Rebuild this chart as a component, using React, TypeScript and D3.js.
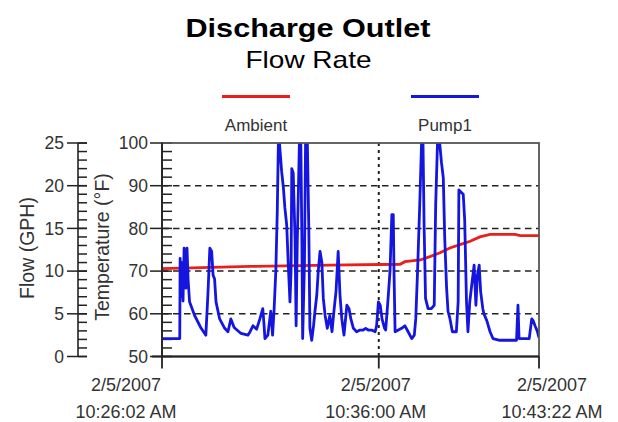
import React from "react";
import * as d3 from "d3";

// seconds after 2/5/2007 10:26:02 AM
const pumpSeconds = [
  0, 49, 50, 52, 55, 58, 61, 66, 69, 72, 76, 90, 108, 121, 127, 132, 137, 141, 145, 149,
  159, 173, 182, 190, 199, 218, 237, 243, 251, 261, 270, 278, 281, 284, 292, 300, 305, 309,
  314, 318, 321, 324, 330, 335, 339, 344, 348, 353, 356, 358, 362, 367, 370, 373, 379, 383,
  386, 388, 393, 396, 401, 405, 408, 413, 418, 422, 427, 431, 436, 441, 445, 450, 456, 463,
  469, 475, 480, 486, 491, 496, 502, 510, 516, 521, 528, 537, 546, 555, 562, 569, 578, 588,
  592, 597, 602, 607, 614, 617, 623, 629, 634, 638, 640, 643, 652, 661, 670, 679, 689, 696,
  700, 705, 711, 716, 720, 723, 727, 734, 743, 751, 755, 760, 766, 771, 776, 780, 785, 789,
  794, 801, 812, 817, 819, 821, 831, 835, 840, 844, 849, 854, 861, 866, 870, 875, 879, 885,
  888, 896, 905, 913, 932, 960, 978, 982, 985, 1002, 1013, 1020, 1024, 1029, 1035, 1040,
];
const pumpFlow = [
  2.1, 2.1, 11.5, 7, 11, 6.5, 12.7, 8, 12.7, 9, 6.4, 4.8, 3.3, 2.5, 7.6, 12.7, 12.3, 9.5, 9.1, 6.4,
  4.4, 3.3, 2.9, 4.4, 3.4, 2.7, 2.5, 2.9, 3.6, 3.2, 4.4, 5.6, 4, 2.1, 2.5, 5.3, 2.5, 5.3,
  10, 17, 25, 25, 21.7, 19.7, 17.4, 15.4, 11.1, 6.4, 10, 22, 21.5, 13.8, 3.6, 13, 25, 25,
  13, 2.1, 11, 25, 25, 15, 3.3, 1.9, 3.6, 5.3, 7.2, 10, 12.3, 11, 6.8, 4.8, 3.3, 4.8,
  2.9, 5.6, 7.6, 12.3, 7.2, 4.4, 2.5, 6, 5.6, 4.4, 3.3, 2.9, 3.1, 3.1, 3.3, 3.1, 3.1, 2.9,
  3.6, 6.4, 6, 4.4, 3.3, 3.1, 6.4, 10, 16.6, 16.6, 10, 2.9, 3.1, 3.3, 3.6, 2.9, 2.1, 2.5,
  4.4, 10, 17.8, 25, 25, 15.4, 6.8, 5.6, 5.6, 6, 17.8, 25, 25, 22.7, 20.9, 13.8, 8.1, 5.3,
  4.5, 2.9, 2.9, 6.4, 19.5, 19.4, 19, 16, 6.4, 2.9, 6.4, 8.2, 10.7, 6, 9.5, 10.7, 7.6, 5.6,
  5, 4.2, 2.9, 2.1, 1.9, 1.9, 1.9, 6, 2.1, 2.1, 2.1, 4.4, 4.2, 3.6, 3, 2.2,
];

const ambientSeconds = [0, 243, 463, 657, 670, 712, 739, 767, 794, 822, 850, 877, 905, 974, 988, 1040];
const ambientTemp = [70.6, 71.1, 71.4, 71.6, 72.2, 72.6, 73.4, 74.3, 75.4, 76.2, 77.0, 78.0, 78.6, 78.6, 78.3, 78.3];

const flowTicks = [0, 5, 10, 15, 20, 25];
const tempTicks = [50, 60, 70, 80, 90, 100];
const tempGrid = [60, 70, 80, 90];
const timeTickSeconds = [0, 598, 1040];
const timeLabelShift = [-36, -3, 13];

const seriesNames = ["Ambient", "Pump1"];
const seriesColors = ["#e8201c", "#1515e0"];

const start = new Date(2007, 1, 5, 10, 26, 2);
const toDate = (s: number) => new Date(start.getTime() + s * 1000);

const font = "'Liberation Sans', Arial, sans-serif";

export default function App() {
  const left = 162, right = 539, top = 143, bottom = 356.5;
  const flowAxisX = 78;

  const x = d3.scaleTime().domain([toDate(0), toDate(1040)]).range([left, right]);
  const yT = d3.scaleLinear().domain([50, 100]).range([bottom, top]);
  const yF = d3.scaleLinear().domain([0, 25]).range([bottom, top]);

  const pump = pumpSeconds.map((s, i) => ({ t: toDate(s), v: pumpFlow[i] }));
  const ambient = ambientSeconds.map((s, i) => ({ t: toDate(s), v: ambientTemp[i] }));

  const pumpLine = d3.line<{ t: Date; v: number }>().x((d) => x(d.t)).y((d) => yF(d.v));
  const ambLine = d3.line<{ t: Date; v: number }>().x((d) => x(d.t)).y((d) => yT(d.v));

  const flowMinor = d3.range(0, 26, 1);
  const tempMinor = d3.range(50, 101, 2);

  const fmtDate = d3.timeFormat("%-m/%-d/%Y");
  const fmtTime = d3.timeFormat("%-I:%M:%S %p");

  return (
    <svg
      width={618}
      height={422}
      style={{ position: "absolute", left: 0, top: 0, background: "#fff" }}
      fontFamily={font}
    >
      <defs>
        <clipPath id="plot">
          <rect x={left} y={top} width={right - left} height={bottom - top} />
        </clipPath>
      </defs>

      {/* titles */}
      <text x={308} y={37} textAnchor="middle" fontSize={25} fontWeight="bold" textLength={245} lengthAdjust="spacingAndGlyphs">
        Discharge Outlet
      </text>
      <text x={308.5} y={68} textAnchor="middle" fontSize={24} textLength={126} lengthAdjust="spacingAndGlyphs">
        Flow Rate
      </text>

      {/* legend */}
      {seriesNames.map((n, i) => {
        const cx = i === 0 ? 256 : 445;
        return (
          <g key={n}>
            <line x1={cx - 34} x2={cx + 34} y1={96.5} y2={96.5} stroke={seriesColors[i]} strokeWidth={3} />
            <text x={cx} y={131} textAnchor="middle" fontSize={17} fill="#333">
              {n}
            </text>
          </g>
        );
      })}

      {/* grid */}
      {tempGrid.map((t) => (
        <line key={t} x1={left} x2={right} y1={yT(t)} y2={yT(t)} stroke="#222" strokeWidth={1.5} strokeDasharray="6.5 4.5" />
      ))}
      <line x1={x(toDate(598))} x2={x(toDate(598))} y1={top} y2={bottom} stroke="#222" strokeWidth={2} strokeDasharray="3 4" />

      {/* temp minor ticks */}
      {tempMinor.map((t) => (
        <line key={t} x1={left} x2={left + 10} y1={yT(t)} y2={yT(t)} stroke="#222" strokeWidth={1.5} />
      ))}

      {/* series */}
      <g clipPath="url(#plot)">
        <path d={ambLine(ambient) ?? ""} fill="none" stroke={seriesColors[0]} strokeWidth={2.8} />
        <path d={pumpLine(pump) ?? ""} fill="none" stroke={seriesColors[1]} strokeWidth={2.8} strokeLinejoin="round" />
      </g>

      {/* frame */}
      <rect x={left} y={top} width={right - left} height={bottom - top} fill="none" stroke="#555" strokeWidth={1.8} />
      <line x1={left} x2={left} y1={top} y2={bottom} stroke="#222" strokeWidth={1.8} />
      <line x1={left - 10} x2={right} y1={bottom} y2={bottom} stroke="#222" strokeWidth={1.8} />

      {/* temperature axis */}
      {tempTicks.map((t) => (
        <g key={t}>
          <line x1={left - 12} x2={left} y1={yT(t)} y2={yT(t)} stroke="#222" strokeWidth={1.5} />
          <text x={left - 14} y={yT(t)} dy="0.36em" textAnchor="end" fontSize={17.5} fill="#333">
            {t}
          </text>
        </g>
      ))}

      {/* flow axis */}
      <line x1={flowAxisX} x2={flowAxisX} y1={top} y2={bottom} stroke="#222" strokeWidth={1.6} />
      {flowMinor.map((f) => (
        <line key={f} x1={flowAxisX} x2={flowAxisX + 9} y1={yF(f)} y2={yF(f)} stroke="#222" strokeWidth={1.5} />
      ))}
      {flowTicks.map((f) => (
        <g key={f}>
          <line x1={flowAxisX - 11} x2={flowAxisX + 9} y1={yF(f)} y2={yF(f)} stroke="#222" strokeWidth={1.5} />
          <text x={flowAxisX - 14} y={yF(f)} dy="0.36em" textAnchor="end" fontSize={17.5} fill="#333">
            {f}
          </text>
        </g>
      ))}

      {/* axis titles */}
      <text transform="translate(27,248) rotate(-90)" dy="0.35em" textAnchor="middle" fontSize={19.5} fill="#333">
        Flow (GPH)
      </text>
      <text transform="translate(102,247) rotate(-90)" dy="0.35em" textAnchor="middle" fontSize={19.5} fill="#333">
        Temperature (°F)
      </text>

      {/* time axis */}
      {timeTickSeconds.map((s, i) => {
        const d = toDate(s);
        const px = x(d);
        return (
          <g key={s}>
            <line x1={px} x2={px} y1={bottom} y2={bottom + 12} stroke="#222" strokeWidth={1.8} />
            <text x={px + timeLabelShift[i]} y={391} textAnchor="middle" fontSize={18} fill="#333">
              {fmtDate(d)}
            </text>
            <text x={px + timeLabelShift[i]} y={418} textAnchor="middle" fontSize={18} fill="#333">
              {fmtTime(d)}
            </text>
          </g>
        );
      })}
    </svg>
  );
}
